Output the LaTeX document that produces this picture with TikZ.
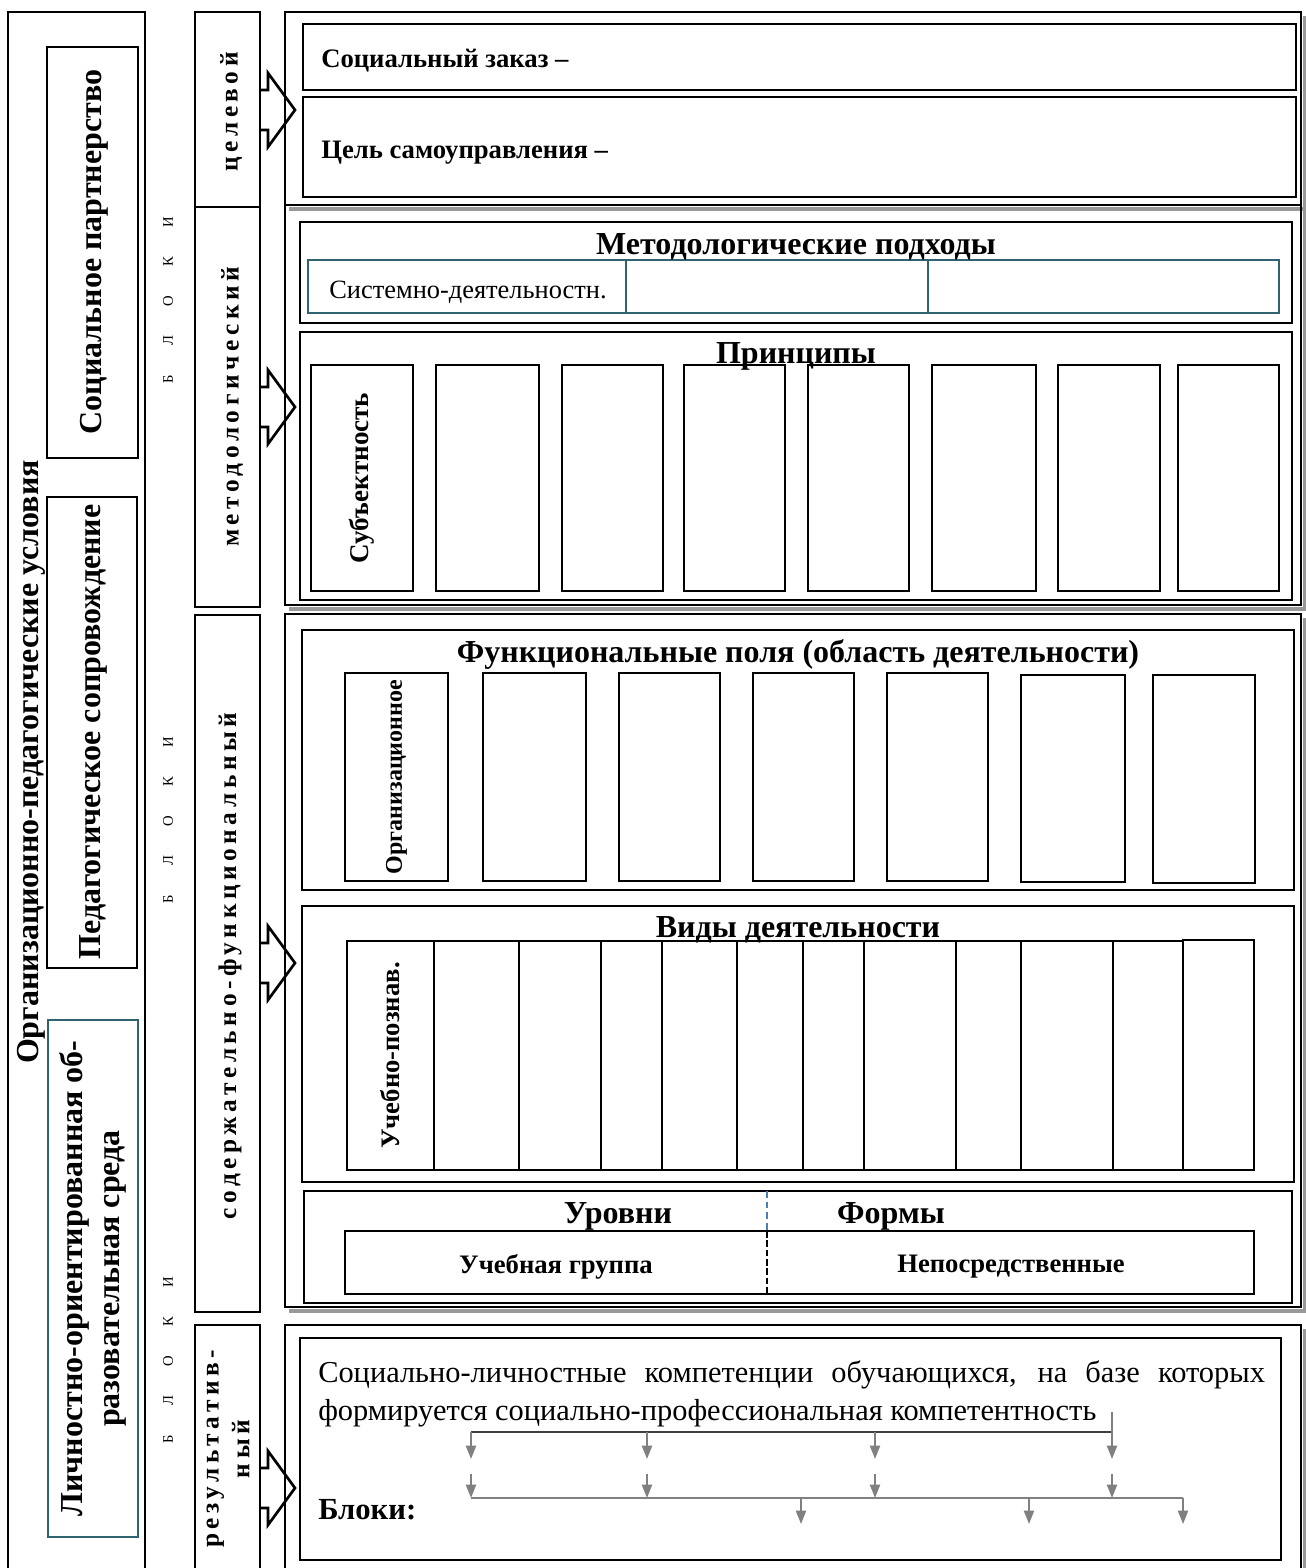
\documentclass[tikz,border=0pt]{standalone}
\usepackage{fontspec}
\setmainfont{Liberation Serif}
\newfontfamily\spfont[LetterSpace=18]{Liberation Serif}
\usetikzlibrary{arrows.meta}
\definecolor{tealc}{HTML}{316270}
\definecolor{blued}{HTML}{4A7EBB}
\newcommand\bx[6]{\node[#2, anchor=north west, minimum width={(#5-#3)*0.75pt}, minimum height={(#6-#4)*0.75pt}] (#1) at (#3,#4) {};}
\newcommand\barrow[1]{\draw[blockarrow, shift={(260,#1)}] (0,-20) -- (8,-20) -- (8,-37) -- (35,0) -- (8,37) -- (8,20) -- (0,20);}
\newcommand\blk{Б\hspace{22pt}Л\hspace{22pt}О\hspace{22pt}К\hspace{22pt}И}
\begin{document}
\begin{tikzpicture}[x=0.75pt,y=-0.75pt,
  bxs/.style={draw, inner sep=0pt, outer sep=0pt},
  heavy/.style={bxs, line width=2.2pt},
  med/.style={bxs, line width=1.6pt},
  cell/.style={bxs, line width=1.4pt},
  tealbox/.style={bxs, draw=tealc, line width=1.6pt},
  grayshadow/.style={draw=black!40, line width=2.6pt},
  blockarrow/.style={draw, line width=2pt, line join=miter},
  vtitle/.style={rotate=90, font=\bfseries\fontsize{24}{28}\selectfont, align=center, inner sep=0pt},
  blocklabel/.style={rotate=90, font=\spfont\bfseries\fontsize{19}{23}\selectfont, align=center, inner sep=0pt},
  bloki/.style={rotate=90, font=\fontsize{11}{12}\selectfont, inner sep=0pt},
  sectitle/.style={font=\bfseries\fontsize{24}{26}\selectfont, inner sep=0pt},
  lbl/.style={font=\bfseries\fontsize{20}{22}\selectfont, inner sep=0pt, anchor=west},
  celltext/.style={rotate=90, inner sep=0pt},
  rowtext/.style={font=\bfseries\fontsize{20}{22}\selectfont, inner sep=0pt},
  plain/.style={font=\fontsize{22.8}{26}\selectfont, inner sep=0pt},
  treeline/.style={draw=black!50, line width=1.5pt},
  treearrow/.style={treeline, -{Triangle[length=10pt,width=7.5pt]}},
]
\useasboundingbox (0,0) rectangle (1306,1568);

% ---------- left column ----------
\bx{leftcol}{heavy}{8}{12}{145}{1590}
\bx{sp}{med}{47}{47}{138}{458}
\bx{ps}{med}{47}{497}{137}{968}
\bx{lo}{tealbox}{48}{1020}{138}{1537}
\node[vtitle] (tsp) at (94,252) {Социальное партнерство};
\node[vtitle] (tps) at (93,732) {Педагогическое сопровождение};
\node[vtitle] (tlo) at (lo.center) {Личностно-ориентированная об-\\разовательная среда};
\node[vtitle] (tou) at (31,762) {Организационно-педагогические условия};

% ---------- БЛОКИ ----------
\node[bloki] (b1) at (168,300) {\blk};
\node[bloki] (b2) at (168,820) {\blk};
\node[bloki] (b3) at (168,1360) {\blk};

% ---------- block column ----------
\bx{cel}{heavy}{195}{12}{260}{207}
\bx{met}{heavy}{195}{207}{260}{607}
\bx{sod}{heavy}{195}{615}{260}{1312}
\bx{res}{heavy}{195}{1325}{260}{1590}
\node[blocklabel] (tcel) at (231,112) {целевой};
\node[blocklabel] (tmet) at (232,407) {методологический};
\node[blocklabel] (tsod) at (230,966) {содержательно-функциональный};
\node[blocklabel] (tres) at (228,1449) {результатив-\\ный};
\barrow{110}
\barrow{407}
\barrow{963}
\barrow{1488}

% ---------- big right boxes ----------
\draw[grayshadow] (289,209) -- (1305,209) -- (1305,16);
\bx{A}{heavy}{285}{12}{1301}{205}
\draw[grayshadow] (289,609) -- (1305,609) -- (1305,209);
\bx{B}{heavy}{285}{205}{1301}{605}
\draw[grayshadow] (289,1311) -- (1305,1311) -- (1305,618);
\bx{C}{heavy}{285}{614}{1301}{1307}
\draw[grayshadow] (1305,1329) -- (1305,1590);
\bx{D}{heavy}{285}{1325}{1301}{1590}

% ---------- целевой ----------
\bx{zak}{med}{303}{24}{1296}{90}
\bx{tsel}{med}{303}{97}{1296}{197}
\node[lbl] (tzak) at (321,61) {Социальный заказ –};
\node[lbl] (ttsel) at (321,153) {Цель самоуправления –};

% ---------- методологический ----------
\bx{mp}{med}{300}{222}{1292}{323}
\bx{mp1}{tealbox}{308}{260}{626}{313}
\bx{mp2}{tealbox}{626}{260}{928}{313}
\bx{mp3}{tealbox}{928}{260}{1279}{313}
\node[sectitle] (tmp) at (796,247) {Методологические подходы};
\node[font=\fontsize{19.8}{22}\selectfont, inner sep=0pt] (tsd) at (468,292) {Системно-деятельностн.};

\bx{pr}{med}{300}{332}{1292}{600}
\bx{p1}{cell}{311}{365}{413}{591}
\bx{p2}{cell}{436}{365}{539}{591}
\bx{p3}{cell}{562}{365}{663}{591}
\bx{p4}{cell}{684}{365}{785}{591}
\bx{p5}{cell}{808}{365}{909}{591}
\bx{p6}{cell}{932}{365}{1036}{591}
\bx{p7}{cell}{1058}{365}{1160}{591}
\bx{p8}{cell}{1178}{365}{1279}{591}
\node[sectitle, anchor=base] (tpr) at (796,363) {Принципы};
\node[celltext, font=\bfseries\fontsize{20.3}{22}\selectfont] (tsub) at (p1.center) {Субъектность};

% ---------- содержательно-функциональный ----------
\bx{fp}{med}{302}{630}{1294}{890}
\node[sectitle] (tfp) at (798,654) {Функциональные поля (область деятельности)};
\bx{f1}{cell}{345}{673}{448}{881}
\bx{f2}{cell}{483}{673}{586}{881}
\bx{f3}{cell}{619}{673}{720}{881}
\bx{f4}{cell}{753}{673}{854}{881}
\bx{f5}{cell}{887}{673}{988}{881}
\bx{f6}{cell}{1021}{675}{1125}{882}
\bx{f7}{cell}{1153}{675}{1255}{883}
\node[celltext, font=\bfseries\fontsize{18}{20}\selectfont] (torg) at (f1.center) {Организационное};

\bx{vd}{med}{302}{906}{1294}{1182}
\bx{v1}{cell}{347}{941}{434}{1170}
\bx{v2}{cell}{434}{941}{519}{1170}
\bx{v3}{cell}{519}{941}{601}{1170}
\bx{v4}{cell}{601}{941}{662}{1170}
\bx{v5}{cell}{662}{941}{737}{1170}
\bx{v6}{cell}{737}{941}{803}{1170}
\bx{v7}{cell}{803}{941}{864}{1170}
\bx{v8}{cell}{864}{941}{956}{1170}
\bx{v9}{cell}{956}{941}{1021}{1170}
\bx{v10}{cell}{1021}{941}{1113}{1170}
\bx{v11}{cell}{1113}{941}{1183}{1170}
\bx{v12}{cell}{1183}{940}{1254}{1170}
\node[sectitle, anchor=base] (tvd) at (798,937) {Виды деятельности};
\node[celltext, font=\bfseries\fontsize{20}{22}\selectfont] (tuch) at (v1.center) {Учебно-познав.};

\bx{uf}{med}{304}{1191}{1292}{1303}
\node[sectitle] (tur) at (618,1216) {Уровни};
\node[sectitle] (tfo) at (891,1216) {Формы};
\bx{ufrow}{med}{345}{1231}{1254}{1294}
\coordinate (dv1) at (767,1191);
\coordinate (dv2) at (767,1231);
\coordinate (dv3) at (767,1294);
\draw[draw=blued, line width=1.3pt, dash pattern=on 5pt off 3pt] (dv1) -- (dv2);
\draw[line width=1.5pt, dash pattern=on 5pt off 2pt] (dv2) -- (dv3);
\node[rowtext] (tug) at (556,1267) {Учебная группа};
\node[rowtext] (tnp) at (1011,1267) {Непосредственные};

% ---------- результативный ----------
\bx{rb}{med}{300}{1338}{1281}{1560}
\node[plain, anchor=base west] (rl1) at (318,1382) {\makebox[710pt][s]{Социально-личностные компетенции обучающихся, на базе которых}};
\node[plain, anchor=base west] (rl2) at (318,1420) {формируется социально-профессиональная компетентность};
\node[font=\bfseries\fontsize{23}{25}\selectfont, inner sep=0pt, anchor=base west] (tbl) at (318,1519) {Блоки:};

\coordinate (s0) at (1112,1412);
\coordinate (h1) at (471,1432);
\coordinate (h2) at (647,1432);
\coordinate (h3) at (875,1432);
\coordinate (h4) at (1112,1432);
\coordinate (e1) at (471,1459);
\coordinate (e2) at (647,1459);
\coordinate (e3) at (875,1459);
\coordinate (e4) at (1112,1459);
\draw[line width=1.6pt, draw=black!75] (h1) -- (h4);
\draw[treearrow] (s0) -- (e4);
\draw[treearrow] (h1) -- (e1);
\draw[treearrow] (h2) -- (e2);
\draw[treearrow] (h3) -- (e3);

\coordinate (u1) at (471,1474);
\coordinate (u2) at (647,1474);
\coordinate (u3) at (875,1474);
\coordinate (u4) at (1112,1474);
\coordinate (l1) at (471,1498);
\coordinate (l2) at (647,1498);
\coordinate (l3) at (875,1498);
\coordinate (l4) at (1112,1498);
\coordinate (l5) at (801,1498);
\coordinate (l6) at (1029,1498);
\coordinate (l7) at (1183,1498);
\coordinate (d5) at (801,1524);
\coordinate (d6) at (1029,1524);
\coordinate (d7) at (1183,1524);
\draw[treeline] (l1) -- (l7);
\draw[treearrow] (u1) -- (l1);
\draw[treearrow] (u2) -- (l2);
\draw[treearrow] (u3) -- (l3);
\draw[treearrow] (u4) -- (l4);
\draw[treearrow] (l5) -- (d5);
\draw[treearrow] (l6) -- (d6);
\draw[treearrow] (l7) -- (d7);
\end{tikzpicture}
\end{document}
